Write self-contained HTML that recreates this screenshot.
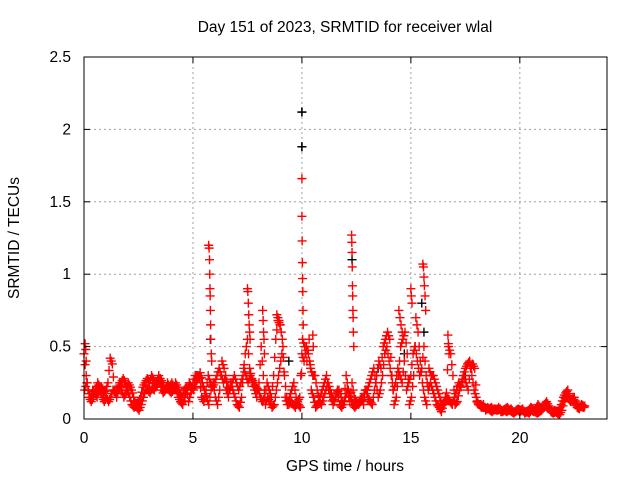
<!DOCTYPE html>
<html><head><meta charset="utf-8"><style>
body{margin:0;background:#fff}
svg text{font-family:"Liberation Sans",sans-serif;font-size:15.5px;fill:#000}
</style></head><body>
<svg id="c" width="640" height="480">
<text x="345" y="32" text-anchor="middle">Day 151 of 2023, SRMTID for receiver wlal</text>
<text x="345" y="471" text-anchor="middle">GPS time / hours</text>
<text transform="translate(19,238) rotate(-90)" text-anchor="middle">SRMTID / TECUs</text>
<g id="grid"></g><g id="marks"></g>
<rect x="84" y="57" width="523" height="362" fill="none" stroke="#000"/>
<g id="axes"></g>
</svg>
<script>
const xTicks=[0,5,10,15,20];
const yTicks=[0,0.5,1,1.5,2,2.5];
const yTickLabels=["0","0.5","1","1.5","2","2.5"];
const sampleStart=0, sampleStep=0.1;
const trackA=[0.45,0.3,0.2,0.15,0.2,0.18,0.15,0.2,0.22,0.18,
0.2,0.25,0.42,0.38,0.2,0.15,0.22,0.25,0.28,0.25,
0.2,0.15,0.1,0.08,0.1,0.12,0.15,0.22,0.25,0.28,
0.25,0.3,0.27,0.22,0.25,0.28,0.25,0.2,0.22,0.2,
0.18,0.2,0.25,0.22,0.18,0.15,0.2,0.22,0.12,0.18,
0.25,0.3,0.3,0.28,0.15,0.12,0.2,0.3,0.25,0.22,
0.25,0.3,0.35,0.3,0.25,0.3,0.22,0.2,0.25,0.3,
0.25,0.2,0.25,0.3,0.45,0.55,0.35,0.28,0.25,0.22,
0.2,0.15,0.12,0.15,0.25,0.2,0.15,0.3,0.55,0.68,
0.65,0.55,0.3,0.15,0.1,0.12,0.1,0.08,0.12,0.15,
0.45,0.4,0.5,0.45,0.35,0.3,0.3,0.2,0.12,0.1,
0.15,0.2,0.25,0.2,0.15,0.12,0.18,0.2,0.15,0.1,
0.15,0.2,0.12,0.25,0.15,0.12,0.1,0.12,0.15,0.2,
0.2,0.25,0.3,0.35,0.25,0.15,0.2,0.3,0.45,0.5,
0.4,0.3,0.2,0.25,0.35,0.3,0.25,0.4,0.2,0.25,
0.3,0.45,0.5,0.4,0.3,0.35,0.5,0.3,0.2,0.25,
0.2,0.15,0.1,0.08,0.05,0.1,0.12,0.15,0.12,0.1,
0.15,0.2,0.25,0.22,0.3,0.35,0.38,0.4,0.3,0.2,
0.15,0.1,0.1,0.08,0.08,0.07,0.07,0.08,0.06,0.07,
0.06,0.07,0.05,0.06,0.05,0.06,0.07,0.05,0.05,0.06,
0.05,0.06,0.05,0.05,0.06,0.08,0.07,0.05,0.04,0.05,
0.06,0.08,0.1,0.08,0.06,0.05,0.06,0.05,0.06,0.1,
0.15,0.18,0.2,0.15,0.12,0.15,0.1,0.08,0.09,0.08];
const trackB=[0.2,0.25,0.15,0.12,0.15,0.2,0.25,0.22,0.15,0.12,
0.15,0.12,0.15,0.2,0.18,0.2,0.25,0.2,0.15,0.18,
0.25,0.22,0.18,0.12,0.08,0.06,0.1,0.15,0.2,0.2,
0.18,0.22,0.2,0.25,0.3,0.22,0.18,0.2,0.25,0.22,
0.25,0.22,0.2,0.15,0.12,0.1,0.15,0.2,0.25,0.22,
0.2,0.25,0.28,0.32,0.25,0.2,0.15,0.1,0.2,0.25,
0.15,0.1,0.2,0.4,0.35,0.2,0.15,0.25,0.2,0.15,
0.1,0.08,0.15,0.35,0.3,0.25,0.3,0.25,0.2,0.15,
0.25,0.5,0.3,0.1,0.15,0.12,0.08,0.1,0.2,0.3,
0.4,0.5,0.15,0.1,0.15,0.2,0.25,0.15,0.1,0.08,
0.55,0.5,0.4,0.55,0.2,0.15,0.08,0.1,0.15,0.2,
0.25,0.3,0.2,0.15,0.1,0.15,0.2,0.1,0.08,0.12,
0.3,0.2,0.15,0.1,0.08,0.1,0.12,0.15,0.1,0.2,
0.15,0.12,0.1,0.2,0.3,0.4,0.35,0.5,0.55,0.6,
0.55,0.3,0.1,0.15,0.3,0.5,0.55,0.6,0.45,0.1,
0.15,0.3,0.7,0.6,0.4,0.25,0.15,0.1,0.35,0.3,
0.3,0.25,0.2,0.15,0.1,0.12,0.18,0.5,0.45,0.3,
0.1,0.12,0.2,0.25,0.3,0.25,0.2,0.35,0.38,0.35,
0.12,0.1,0.08,0.1,0.06,0.08,0.06,0.05,0.07,0.06,
0.08,0.05,0.06,0.07,0.08,0.06,0.05,0.04,0.06,0.07,
0.06,0.07,0.04,0.05,0.04,0.06,0.05,0.07,0.1,0.08,
0.07,0.1,0.12,0.09,0.05,0.04,0.05,0.04,0.03,0.06,
0.12,0.16,0.14,0.12,0.15,0.12,0.08,0.07,0.1,0.09];
const spikeTimes=[0.05,0.08,0.1,5.72,5.74,5.76,5.77,5.78,5.79,5.8,5.81,5.82,5.84,5.86,
7.5,7.52,7.54,7.56,7.58,7.6,7.62,8.2,8.22,8.24,8.26,8.28,8.85,8.9,8.95,9.0,
10.0,10.0,10.01,10.02,10.03,10.04,10.05,10.06,10.5,10.52,
12.28,12.29,12.3,12.31,12.32,12.33,12.34,12.35,12.36,12.38,
14.45,14.5,14.55,14.6,15.0,15.02,15.05,15.55,15.58,15.6,15.62,15.65,15.68,16.7,16.72,16.75];
const spikeValues=[0.52,0.48,0.4,1.2,1.18,1.1,1.0,0.9,0.85,0.75,0.65,0.55,0.45,0.4,
0.9,0.88,0.8,0.72,0.65,0.6,0.55,0.75,0.68,0.6,0.55,0.45,0.72,0.7,0.68,0.65,
1.66,1.4,1.23,1.08,0.97,0.88,0.75,0.65,0.58,0.5,
1.27,1.22,1.15,1.05,0.92,0.85,0.75,0.7,0.6,0.5,
0.75,0.7,0.65,0.6,0.9,0.85,0.8,1.07,1.05,0.98,0.92,0.85,0.75,0.58,0.52,0.45];
const blackTimes=[10.0,10.0,12.3,5.8,15.5,15.6,14.7,13.5,17.5,9.4,1.9,3.0];
const blackValues=[2.12,1.88,1.1,0.55,0.8,0.6,0.45,0.35,0.3,0.4,0.25,0.25];

const X=t=>84+t*(523/24);
const Y=v=>419-v*(362/2.5);
const NS="http://www.w3.org/2000/svg";
function mk(tag,attrs,parent){const e=document.createElementNS(NS,tag);for(const k in attrs)e.setAttribute(k,attrs[k]);parent.appendChild(e);return e;}
const grid=document.getElementById('grid'),axes=document.getElementById('axes'),marks=document.getElementById('marks');
xTicks.forEach(t=>{
  const x=X(t);
  if(t>0){const g=mk('line',{x1:x,x2:x,y1:57,y2:419,stroke:'#a0a0a0','stroke-dasharray':'2,3'},grid);
  
  }
  mk('line',{x1:x,x2:x,y1:419,y2:413,stroke:'#000'},axes);
  mk('line',{x1:x,x2:x,y1:57,y2:63,stroke:'#000'},axes);
  const tx=mk('text',{x:x,y:443,'text-anchor':'middle'},axes);tx.textContent=t;
  
  
});
yTicks.forEach((v,i)=>{
  const y=Y(v);
  if(v>0&&v<2.5){const g=mk('line',{x1:84,x2:607,y1:y,y2:y,stroke:'#a0a0a0','stroke-dasharray':'2,3'},grid);
  
  }
  mk('line',{x1:84,x2:90,y1:y,y2:y,stroke:'#000'},axes);
  mk('line',{x1:607,x2:601,y1:y,y2:y,stroke:'#000'},axes);
  const tx=mk('text',{x:71,y:y+5,'text-anchor':'end'},axes);tx.textContent=yTickLabels[i];
  
  
});
function plus(t,v,col,name){
  const x=X(t),y=Y(v);
  const p=mk('path',{d:`M${x-4.5},${y}h9M${x},${y-4.5}v9`,stroke:col,'stroke-width':1.4,fill:'none'},marks);
  
  
}
blackTimes.forEach((t,i)=>plus(t,blackValues[i],'#000','point-black'));
trackA.forEach((v,i)=>{plus(sampleStart+i*sampleStep,v,'#f00','point-track-a');plus(sampleStart+i*sampleStep+0.05,(v+(trackA[i+1]??v))/2,'#f00','point-track-a');});
trackB.forEach((v,i)=>{plus(sampleStart+i*sampleStep+0.03,v,'#f00','point-track-b');plus(sampleStart+i*sampleStep+0.08,(v+(trackB[i+1]??v))/2,'#f00','point-track-b');});
spikeTimes.forEach((t,i)=>plus(t,spikeValues[i],'#f00','point-spike'));
plus(blackTimes[0],blackValues[0],'#000','point-black-top');
plus(blackTimes[1],blackValues[1],'#000','point-black-top');
</script>
</body></html>
